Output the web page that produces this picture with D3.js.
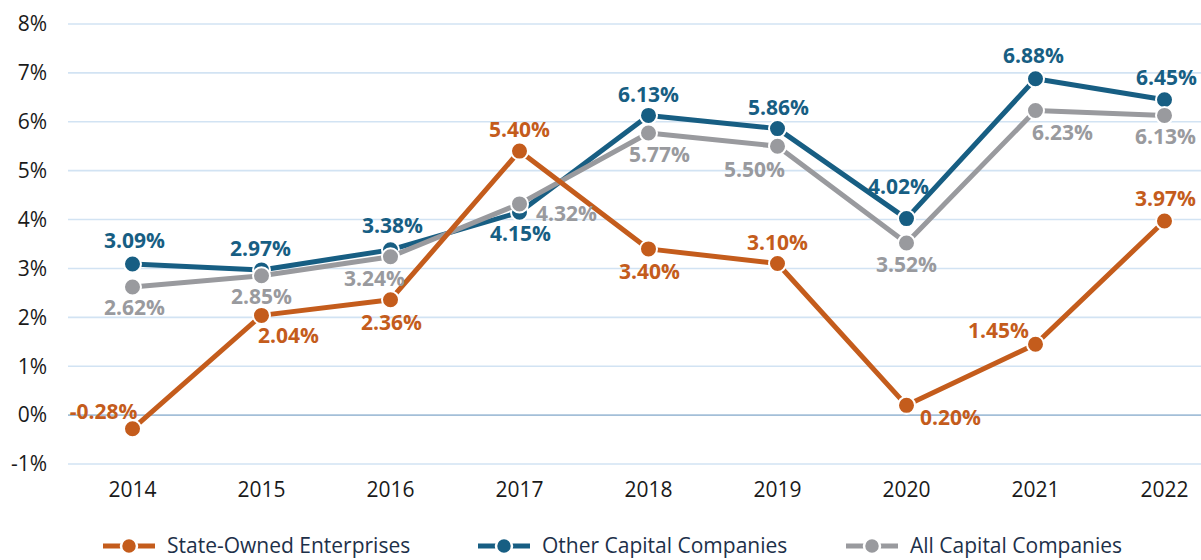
<!DOCTYPE html>
<html>
<head>
<meta charset="utf-8">
<script src="https://cdn.jsdelivr.net/npm/d3@7"></script>
<style>
  body { margin: 0; background: #fff; }
  svg { display: block; font-family: "Open Sans", "Noto Sans", sans-serif; }
</style>
</head>
<body>
<svg width="1201" height="560"></svg>
<script>
// data
var years = ["2014", "2015", "2016", "2017", "2018", "2019", "2020", "2021", "2022"];
var stateOwned = [-0.28, 2.04, 2.36, 5.40, 3.40, 3.10, 0.20, 1.45, 3.97];
var otherCapital = [3.09, 2.97, 3.38, 4.15, 6.13, 5.86, 4.02, 6.88, 6.45];
var allCapital = [2.62, 2.85, 3.24, 4.32, 5.77, 5.50, 3.52, 6.23, 6.13];
var yTicks = [-1, 0, 1, 2, 3, 4, 5, 6, 7, 8];
var seriesNames = ["State-Owned Enterprises", "Other Capital Companies", "All Capital Companies"];

// label offsets (layout only), [dx, dy] from point to label centre
var offOrange = [[-29, -17], [27, 20], [1, 23], [0, -21], [1, 23], [0, -21], [44, 12], [-37, -14], [1, -22]];
var offBlue = [[2, -23], [-1, -21], [2, -24], [1, 21], [0, -21], [1, -21], [-8, -32], [-2, -23], [2, -22]];
var offGray = [[2, 21], [0, 21], [-16, 22], [47, 10], [11, 22], [-23, 23], [0, 22], [27, 22], [1, 21]];

var svg = d3.select("svg");

var x = d3.scalePoint().domain(years).range([68, 1229]).padding(0.5);
var y = d3.scaleLinear().domain([-1, 8]).range([464, 24]);

// gridlines
svg.append("g").selectAll("line")
    .data(yTicks)
    .enter()
    .append("line")
    .attr("x1", 68)
    .attr("x2", 1229)
    .attr("y1", function (d) { return y(d); })
    .attr("y2", function (d) { return y(d); })
    .attr("stroke", function (d) { return d == 0 ? "#a3bfd8" : "#d2e3f3"; })
    .attr("stroke-width", 1.6);

// y axis labels
svg.append("g").selectAll("text")
    .data(yTicks)
    .enter()
    .append("text")
    .attr("x", 47)
    .attr("y", function (d) { return y(d); })
    .attr("dy", "0.35em")
    .attr("text-anchor", "end")
    .attr("font-size", 21)
    .attr("fill", "#1a1a1a")
    .text(function (d) { return d + "%"; });

// x axis labels
svg.append("g").selectAll("text")
    .data(years)
    .enter()
    .append("text")
    .attr("x", function (d) { return x(d); })
    .attr("y", 490)
    .attr("dy", "0.35em")
    .attr("text-anchor", "middle")
    .attr("font-size", 21)
    .attr("fill", "#1a1a1a")
    .text(function (d) { return d; });

var series = [
    { name: seriesNames[1], values: otherCapital, color: "#175e83", offs: offBlue },
    { name: seriesNames[2], values: allCapital, color: "#999a9e", offs: offGray },
    { name: seriesNames[0], values: stateOwned, color: "#c45c1c", offs: offOrange }
];

var line = d3.line()
    .x(function (d, i) { return x(years[i]); })
    .y(function (d) { return y(d); });

series.forEach(function (s) {
    var g = svg.append("g");
    g.append("path")
        .datum(s.values)
        .attr("d", line)
        .attr("fill", "none")
        .attr("stroke", s.color)
        .attr("stroke-width", 5)
        .attr("stroke-linejoin", "round");
    g.selectAll("circle")
        .data(s.values)
        .enter()
        .append("circle")
        .attr("cx", function (d, i) { return x(years[i]); })
        .attr("cy", function (d) { return y(d); })
        .attr("r", 8.5)
        .attr("fill", s.color)
        .attr("stroke", "#fff")
        .attr("stroke-width", 2);
});

// value labels
series.forEach(function (s) {
    svg.append("g").selectAll("text")
        .data(s.values)
        .enter()
        .append("text")
        .attr("x", function (d, i) { return x(years[i]) + s.offs[i][0]; })
        .attr("y", function (d, i) { return y(d) + s.offs[i][1]; })
        .attr("dy", "0.35em")
        .attr("text-anchor", "middle")
        .attr("font-size", 21)
        .attr("font-weight", 700)
        .attr("fill", s.color)
        .text(function (d) { return d.toFixed(2) + "%"; });
});

// legend
var legendItems = [
    { name: seriesNames[0], color: "#c45c1c", x: 103 },
    { name: seriesNames[1], color: "#175e83", x: 478 },
    { name: seriesNames[2], color: "#999a9e", x: 846 }
];
var lg = svg.append("g").selectAll("g")
    .data(legendItems)
    .enter()
    .append("g")
    .attr("transform", function (d) { return "translate(" + d.x + ",546)"; });
lg.append("line")
    .attr("x1", 0).attr("x2", 52)
    .attr("stroke", function (d) { return d.color; })
    .attr("stroke-width", 5);
lg.append("circle")
    .attr("cx", 26)
    .attr("r", 8)
    .attr("fill", function (d) { return d.color; })
    .attr("stroke", "#fff")
    .attr("stroke-width", 2.5);
lg.append("text")
    .attr("x", 64)
    .attr("dy", "0.35em")
    .attr("font-size", 21)
    .attr("fill", "#1d3049")
    .text(function (d) { return d.name; });
</script>
</body>
</html>
